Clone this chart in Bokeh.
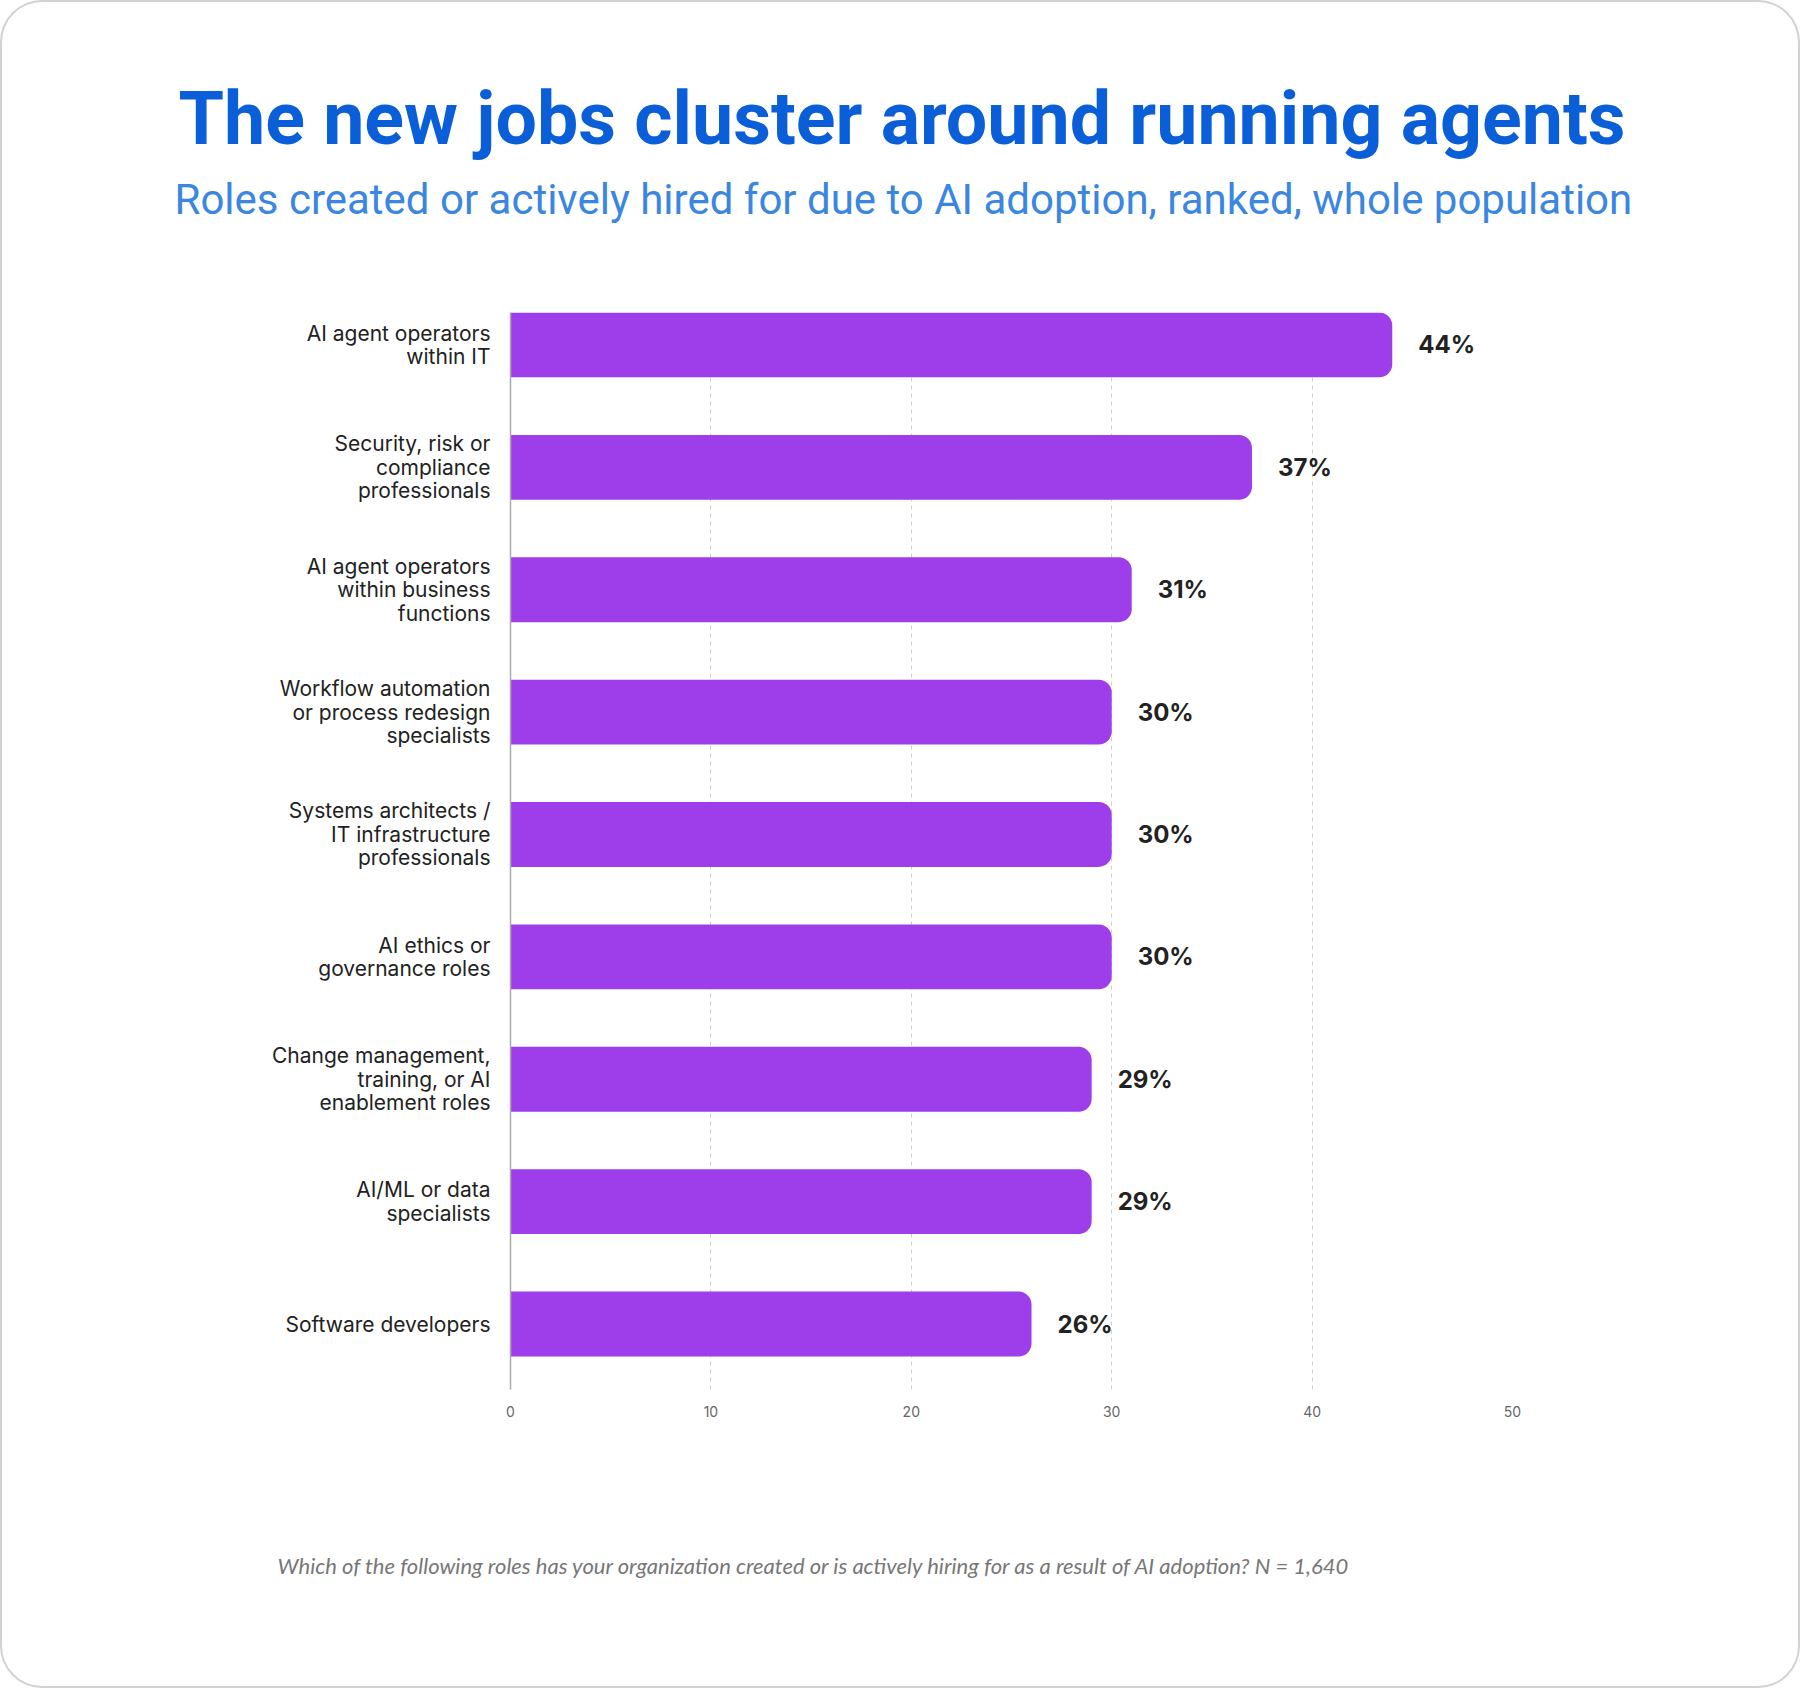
from bokeh.plotting import figure
from bokeh.models import ColumnDataSource, Range1d, LabelSet, Title, FixedTicker
from bokeh.core.properties import value
from bokeh.embed import file_html
from bokeh.resources import INLINE

categories = [
    "AI agent operators\nwithin IT",
    "Security, risk or\ncompliance\nprofessionals",
    "AI agent operators\nwithin business\nfunctions",
    "Workflow automation\nor process redesign\nspecialists",
    "Systems architects /\nIT infrastructure\nprofessionals",
    "AI ethics or\ngovernance roles",
    "Change management,\ntraining, or AI\nenablement roles",
    "AI/ML or data\nspecialists",
    "Software developers",
]
values = [44, 37, 31, 30, 30, 30, 29, 29, 26]
tick_values = [0, 10, 20, 30, 40, 50]

title_text = "The new jobs cluster around running agents"
subtitle_text = "Roles created or actively hired for due to AI adoption, ranked, whole population"
footnote_text = "Which of the following roles has your organization created or is actively hiring for as a result of AI adoption? N = 1,640"

W, H = 1800, 1688
FL, FR, FT, FB = 510, 1512, 312, 1389

n = len(categories)
ys = [n - 1 - i for i in range(n)]
src = ColumnDataSource(dict(
    y=ys,
    value=values,
    label=[f"{v}%" for v in values],
))

p = figure(width=W, height=H, x_range=Range1d(0, 50), y_range=Range1d(-0.535, n - 1 + 0.265),
           output_backend="svg", toolbar_location=None,
           min_border_left=FL, min_border_right=W - FR, min_border_top=FT, min_border_bottom=H - FB)
p.background_fill_color = None
p.border_fill_color = None
p.outline_line_color = None
p.styles = {"background-color": "white", "border-radius": "42px",
            "box-shadow": "inset 0 0 0 2px #d2d2d2"}

p.xaxis.ticker = FixedTicker(ticks=tick_values)
p.xaxis.axis_line_color = None
p.xaxis.major_tick_line_color = None
p.xaxis.minor_tick_line_color = None
p.xaxis.major_tick_out = 0
p.xaxis.major_label_standoff = 16
p.xaxis.major_label_text_font = "Inter"
p.xaxis.major_label_text_font_size = "14px"
p.xaxis.major_label_text_color = "#666666"

p.yaxis.ticker = FixedTicker(ticks=ys)
p.yaxis.major_label_overrides = {y: c for y, c in zip(ys, categories)}
p.yaxis.axis_line_color = "#aaaaaa"
p.yaxis.axis_line_width = 1.5
p.yaxis.major_tick_line_color = None
p.yaxis.minor_tick_line_color = None
p.yaxis.major_tick_out = 0
p.yaxis.major_label_standoff = 20
p.yaxis.major_label_text_font = "Inter"
p.yaxis.major_label_text_font_size = "21px"
p.yaxis.major_label_text_line_height = 0.94
p.yaxis.major_label_text_color = "#222222"

p.xgrid.ticker = FixedTicker(ticks=tick_values)
p.xgrid.grid_line_color = "#cfcfcf"
p.xgrid.grid_line_dash = "4 4"
p.xgrid.grid_line_width = 1
p.ygrid.grid_line_color = None

p.hbar(y="y", right="value", left=0, height=0.53, source=src,
       fill_color="#9d3eea", line_color=None, border_radius=(0, 13, 13, 0))

p.add_layout(LabelSet(x="value", y="y", text="label", source=src, x_offset=26,
                      text_baseline="middle", text_align="left",
                      text_font=value("Inter"), text_font_size="24px", text_font_style="bold",
                      text_color="#222222"))

# header: spacer (closest to the plot area), subtitle, title
p.add_layout(Title(text=" ", text_font="Roboto", text_font_size="10px", standoff=71,
                   text_color="white"), "above")
p.add_layout(Title(text=subtitle_text, align="left", offset=174 - FL, standoff=10,
                   text_font="Roboto", text_font_size="42px", text_font_style="normal",
                   text_color="#3a86e0"), "above")
p.add_layout(Title(text=title_text, align="left", offset=178 - FL, standoff=12,
                   text_font="Roboto", text_font_size="73.5px", text_font_style="bold",
                   text_color="#0a5fd8"), "above")

# footer: spacer below the axis, then the question text
p.add_layout(Title(text=" ", text_font="Roboto", text_font_size="10px", standoff=112,
                   text_color="white"), "below")
p.add_layout(Title(text=footnote_text, align="left", offset=277 - FL, standoff=10,
                   text_font="Lato", text_font_size="22px", text_font_style="italic",
                   text_color="#777777"), "below")

open("out.html", "w").write(file_html(p, INLINE))
